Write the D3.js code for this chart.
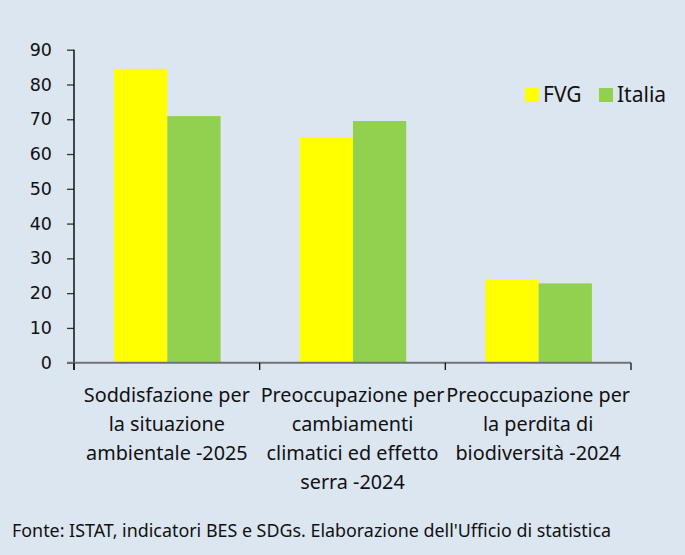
<!DOCTYPE html>
<html><head><meta charset="utf-8">
<script src="https://cdn.jsdelivr.net/npm/d3@7"></script>
<style>body{margin:0;background:#dce6f1;}svg{display:block;}</style>
</head><body>
<script>
const categories = [
  ["Soddisfazione per","la situazione","ambientale -2025"],
  ["Preoccupazione per","cambiamenti","climatici ed effetto","serra -2024"],
  ["Preoccupazione per","la perdita di","biodiversità -2024"]
];
const seriesNames = ["FVG","Italia"];
const fvg = [84.5, 64.8, 24.0];
const italia = [70.9, 69.5, 22.8];
const yTicks = [0,10,20,30,40,50,60,70,80,90];
const source = "Fonte: ISTAT, indicatori BES e SDGs. Elaborazione dell'Ufficio di statistica";
const colors = ["#ffff00","#92d050"];

const W=685,H=555;
const svg=d3.select("body").append("svg").attr("width",W).attr("height",H);
svg.append("rect").attr("width",W).attr("height",H).attr("fill","#dce6f1");

const x=d3.scaleBand().domain(d3.range(categories.length)).range([74,631]);
const y=d3.scaleLinear().domain([0,90]).range([362.7,49.7]);
const bw=x.bandwidth();
const series=[fvg,italia];

// bars
series.forEach((s,si)=>{
  svg.append("g").selectAll("rect").data(s).join("rect")
    .attr("x",(d,i)=>x(i)+bw*0.2155+si*bw*0.287)
    .attr("width",bw*0.287)
    .attr("y",d=>y(d))
    .attr("height",d=>y(0)-y(d))
    .attr("fill",colors[si]);
});

// y axis
const yAxis=svg.append("g").attr("transform","translate(74,0)")
  .call(d3.axisLeft(y).tickValues(yTicks).tickSize(7).tickPadding(15).tickFormat(d3.format("d")));
yAxis.select(".domain").remove();
yAxis.selectAll(".tick line").attr("stroke","#333").attr("stroke-width",1.3);
yAxis.selectAll("text").attr("font-family","DejaVu Sans").attr("font-size",17.5).attr("fill","#111");
svg.append("line").attr("x1",74).attr("x2",74).attr("y1",y(90)).attr("y2",370).attr("stroke","#111").attr("stroke-width",1.5);

// x baseline
svg.append("line").attr("x1",67).attr("x2",631).attr("y1",y(0)).attr("y2",y(0)).attr("stroke","#6f7377").attr("stroke-width",2);
const bounds=d3.range(categories.length+1).map(i=>i<categories.length?x(i):x(categories.length-1)+bw);
svg.append("g").selectAll("line").data(bounds).join("line")
  .attr("x1",d=>d).attr("x2",d=>d).attr("y1",y(0)).attr("y2",370)
  .attr("stroke","#111").attr("stroke-width",1.3);

// category labels
categories.forEach((lines,i)=>{
  const t=svg.append("text").attr("text-anchor","middle")
    .attr("font-family","Noto Sans").attr("font-size",19.8).attr("fill","#111");
  lines.forEach((l,j)=>{
    t.append("tspan").attr("x",x(i)+bw/2).attr("y",402+j*29).text(l);
  });
});

// legend
const lg=svg.append("g");
seriesNames.forEach((n,i)=>{
  const lx=[525,599][i];
  lg.append("rect").attr("x",lx).attr("y",88).attr("width",14).attr("height",14).attr("fill",colors[i]);
  lg.append("text").attr("x",lx+18).attr("y",102).attr("font-family","Noto Sans").attr("font-size",21).attr("fill","#111").text(n);
});

// source
svg.append("text").attr("x",12).attr("y",537).attr("font-family","Noto Sans").attr("font-size",17.5)
  .attr("fill","#111").attr("textLength",599).attr("lengthAdjust","spacingAndGlyphs").text(source);
</script>
</body></html>
